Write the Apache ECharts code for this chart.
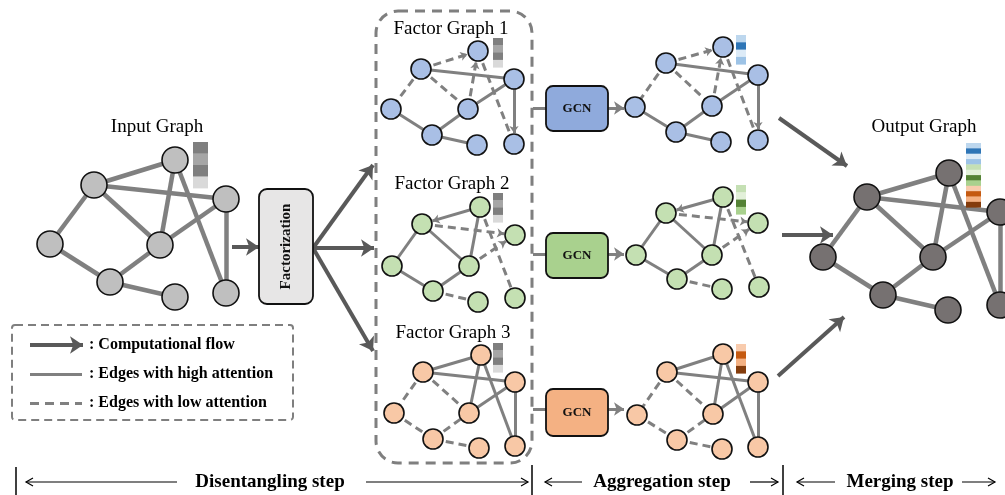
<!DOCTYPE html>
<html><head><meta charset="utf-8">
<script src="https://cdn.jsdelivr.net/npm/echarts@6/dist/echarts.min.js"></script>
<style>html,body{margin:0;padding:0;background:#fff}#c{width:1005px;height:495px}</style>
</head><body><div id="c"></div>
<script>
// ---------- node positions (a,b,c,d,e,f,g,h) ----------
const inputPos = [[175,160],[94,185],[226,199],[50,244],[160,245],[110,282],[175,297],[226,293]];
const fg1Pos = [[478,51],[421,69],[514,79],[391,109],[468,109],[432,135],[477,145],[514,144]];
const fg2Pos = [[480,207],[422,224],[515,235],[392,266],[469,266],[433,291],[478,302],[515,298]];
const fg3Pos = [[481,355],[423,372],[515,382],[394,413],[469,413],[433,439],[479,448],[515,446]];
const agg1Pos = [[723,47],[666,63],[758,75],[635,107],[712,106],[676,132],[721,142],[758,140]];
const agg2Pos = [[723,197],[666,213],[758,223],[636,255],[712,255],[677,279],[722,289],[759,287]];
const agg3Pos = [[723,354],[667,372],[758,382],[637,415],[713,414],[677,440],[722,449],[758,447]];
const outPos = [[949,173],[867,197],[1000,212],[823,257],[933,257],[883,295],[948,310],[1000,305]];

// ---------- edges and attention (H = high, L = low, null = absent) ----------
const edges = [[1,0],[1,2],[1,4],[1,3],[3,5],[5,4],[5,6],[4,0],[4,2],[0,7],[2,7]];
const inputAtt = ['H','H','H','H','H','H','H','H','H','H','H'];
const fg1Att = ['L','H','L','L','H','H','H','L','H','L','H'];
const fg2Att = ['H','L','H','H','H','H','L','H','L','L',null];
const fg3Att = ['H','H','L','L','L','L','L','H','H','H','H'];
// directed edges (edge index, target node) drawn with an arrowhead
const fg1Dir = [[0,0],[7,0],[10,7]];
const fg2Dir = [[0,1],[1,2],[8,2]];
const fg3Dir = [];

// ---------- node feature vectors ----------
const inputFeat = ['#7f7f7f','#a6a6a6','#7f7f7f','#d9d9d9'];
const agg1Feat = ['#bdd7ee','#2e75b6','#ddebf7','#9dc3e6'];
const agg2Feat = ['#c5e0b4','#e2f0d9','#548235','#a9d18e'];
const agg3Feat = ['#f8cbad','#c55a11','#f4b183','#843c0c'];
const outFeat = agg1Feat.concat(agg2Feat, agg3Feat);

// ---------- texts ----------
const graphTitles = ['Input Graph','Factor Graph 1','Factor Graph 2','Factor Graph 3','Output Graph'];
const legendLabels = [': Computational flow',': Edges with high attention',': Edges with low attention'];
const stepLabels = ['Disentangling step','Aggregation step','Merging step'];
const boxLabels = ['Factorization','GCN','GCN','GCN'];

// ---------- layout / style (not data) ----------
const titleAt = [[157,127],[451,29],[452,184],[453,333],[924,127]];
const legendAt = [[89,345],[89,374],[89,403]];
const stepAt = [[270,482],[662,482],[900,482]];
const stepArrows = [[177,26],[366,528],[582,545],[750,778],[835,797],[962,995]];
const stepDividers = [[16,467],[532,465],[783,465]];
const factorBox = [259,189,313,304];
const gcnBoxes = [[546,86,608,131],[546,233,608,278],[546,389,608,436]];
const gcnColors = ['#8faadc','#a9d18e','#f4b183'];
const containerBox = [376,11,532,463];
const legendBox = [12,325,293,420];
const flowArrows = [
  [[232,247],[259,247]],[[313,248],[373,165]],[[313,248],[374,248]],[[313,248],[373,351]],
  [[779,118],[847,166]],[[782,235],[833,235]],[[778,376],[844,317]],[[30,345],[83,345]]
];
const gcnLinks = [[[533,108],[546,108]],[[533,254],[546,254]],[[533,409],[546,409]]];
const gcnOut = [[[608,108],[624,108]],[[608,254],[624,254]],[[608,409],[624,409]]];
const legendSolid = [[[30,374],[82,374]]];
const legendDashed = [[[30,403],[82,403]]];
const featBars = [
  {at:[193,142], w:15, h:11.5, colors:inputFeat},
  {at:[493,38], w:10, h:7.3, colors:inputFeat},
  {at:[493,193], w:10, h:7.3, colors:inputFeat},
  {at:[493,343], w:10, h:7.3, colors:inputFeat},
  {at:[736,35], w:10, h:7.3, colors:agg1Feat},
  {at:[736,185], w:10, h:7.3, colors:agg2Feat},
  {at:[736,344], w:10, h:7.3, colors:agg3Feat},
  {at:[966,143], w:15, h:5.35, colors:outFeat}
];
const FONT = '"Liberation Serif","Times New Roman",serif';
const EDGE = '#808080';

const graphs = [
  {pos:inputPos, att:inputAtt, dir:[], fill:'#bfbfbf', r:13, w:4.5},
  {pos:fg1Pos, att:fg1Att, dir:fg1Dir, fill:'#a9bfe5', r:10, w:3},
  {pos:fg2Pos, att:fg2Att, dir:fg2Dir, fill:'#c4e0b2', r:10, w:3},
  {pos:fg3Pos, att:fg3Att, dir:fg3Dir, fill:'#f8c8a6', r:10, w:3},
  {pos:agg1Pos, att:fg1Att, dir:fg1Dir, fill:'#a9bfe5', r:10, w:3},
  {pos:agg2Pos, att:fg2Att, dir:fg2Dir, fill:'#c4e0b2', r:10, w:3},
  {pos:agg3Pos, att:fg3Att, dir:fg3Dir, fill:'#f8c8a6', r:10, w:3},
  {pos:outPos, att:inputAtt, dir:[], fill:'#767171', r:13, w:4.5}
];

function edgeData(g, kind){
  const out = [];
  const directed = g.dir.map(d=>d[0]);
  edges.forEach((e,i)=>{ if(g.att[i]===kind && directed.indexOf(i)<0) out.push({coords:[g.pos[e[0]], g.pos[e[1]]]}); });
  return out;
}
function dirData(g, kind){
  const out = [];
  g.dir.forEach(d=>{
    const i=d[0]; if(g.att[i]!==kind) return;
    const e=edges[i]; const to=d[1]; const from = e[0]===to?e[1]:e[0];
    const p0=g.pos[from], p1=g.pos[to];
    const dx=p1[0]-p0[0], dy=p1[1]-p0[1], L=Math.hypot(dx,dy), k=(L-g.r-1)/L;
    out.push({coords:[p0,[p0[0]+dx*k,p0[1]+dy*k]]});
  });
  return out;
}

const series = [];

// frames (dashed container + legend box)
const frames = [{b:containerBox, r:22, dash:[10,7], w:3},{b:legendBox, r:3, dash:[8,5], w:2}];
series.push({type:'custom', z:1, silent:true, data:frames.map(f=>[f.b[0],f.b[1]]),
  renderItem:(p,api)=>{const f=frames[p.dataIndex];const a=api.coord([f.b[0],f.b[1]]),b=api.coord([f.b[2],f.b[3]]);
    return {type:'rect', shape:{x:a[0],y:a[1],width:b[0]-a[0],height:b[1]-a[1],r:f.r},
      style:{fill:'none',stroke:'#7f7f7f',lineWidth:f.w,lineDash:f.dash}};}});

// edges
graphs.forEach(g=>{
  series.push({type:'lines', coordinateSystem:'cartesian2d', z:2, silent:true, symbol:'none',
    lineStyle:{color:EDGE, width:g.w, opacity:1}, data:edgeData(g,'H')});
  series.push({type:'lines', coordinateSystem:'cartesian2d', z:2, silent:true, symbol:'none',
    lineStyle:{color:EDGE, width:g.w, opacity:1, type:[8,5]}, data:edgeData(g,'L')});
  series.push({type:'lines', coordinateSystem:'cartesian2d', z:2, silent:true, symbol:['none','arrow'], symbolSize:7,
    lineStyle:{color:EDGE, width:g.w, opacity:1}, data:dirData(g,'H')});
  series.push({type:'lines', coordinateSystem:'cartesian2d', z:2, silent:true, symbol:['none','arrow'], symbolSize:7,
    lineStyle:{color:EDGE, width:g.w, opacity:1, type:[8,5]}, data:dirData(g,'L')});
});
// legend sample lines
series.push({type:'lines', coordinateSystem:'cartesian2d', z:2, symbol:'none', lineStyle:{color:EDGE,width:3,opacity:1}, data:legendSolid.map(c=>({coords:c}))});
series.push({type:'lines', coordinateSystem:'cartesian2d', z:2, symbol:'none', lineStyle:{color:EDGE,width:3,opacity:1,type:[9,6]}, data:legendDashed.map(c=>({coords:c}))});
// gcn connectors
series.push({type:'lines', coordinateSystem:'cartesian2d', z:2, symbol:'none', lineStyle:{color:EDGE,width:3,opacity:1}, data:gcnLinks.map(c=>({coords:c}))});
series.push({type:'lines', coordinateSystem:'cartesian2d', z:2, symbol:['none','arrow'], symbolSize:10, lineStyle:{color:EDGE,width:3,opacity:1}, data:gcnOut.map(c=>({coords:c}))});
// flow arrows
series.push({type:'lines', coordinateSystem:'cartesian2d', z:4, symbol:['none','arrow'], symbolSize:13, lineStyle:{color:'#595959',width:4,opacity:1}, data:flowArrows.map(c=>({coords:c}))});

// nodes
graphs.forEach(g=>{
  series.push({type:'scatter', z:3, silent:true, symbol:'circle', symbolSize:g.r*2,
    itemStyle:{color:g.fill, borderColor:'#111', borderWidth:1.6, opacity:1}, data:g.pos});
});

// feature cells
const cells = [];
featBars.forEach(b=>b.colors.forEach((c,i)=>cells.push({x:b.at[0], y:b.at[1]+i*b.h, w:b.w, h:b.h, c})));
series.push({type:'custom', z:3, silent:true, data:cells.map(c=>[c.x,c.y]),
  renderItem:(p,api)=>{const c=cells[p.dataIndex];const a=api.coord([c.x,c.y]),b=api.coord([c.x+c.w,c.y+c.h]);
    return {type:'rect', shape:{x:a[0],y:a[1],width:b[0]-a[0],height:b[1]-a[1]+0.4}, style:{fill:c.c}};}});

// boxes
const boxes = [{b:factorBox, fill:'#e7e6e6', r:8}].concat(gcnBoxes.map((b,i)=>({b, fill:gcnColors[i], r:7})));
series.push({type:'custom', z:4, silent:true, data:boxes.map(b=>[b.b[0],b.b[1]]),
  renderItem:(p,api)=>{const bx=boxes[p.dataIndex];const a=api.coord([bx.b[0],bx.b[1]]),b=api.coord([bx.b[2],bx.b[3]]);
    const idx=p.dataIndex;
    return {type:'group', children:[
      {type:'rect', shape:{x:a[0],y:a[1],width:b[0]-a[0],height:b[1]-a[1],r:bx.r}, style:{fill:bx.fill,stroke:'#111',lineWidth:1.8}},
      {type:'text', x:(a[0]+b[0])/2, y:(a[1]+b[1])/2, rotation: idx===0?Math.PI/2:0,
        style:{text:boxLabels[idx], font:'bold '+(idx===0?15:13)+'px '+FONT, fill:'#111', align:'center', verticalAlign:'middle', textAlign:'center', textVerticalAlign:'middle'}}
    ]};}});

// texts
const texts = [];
graphTitles.forEach((t,i)=>texts.push({t, p:titleAt[i], f:'19px '+FONT, al:'center'}));
legendLabels.forEach((t,i)=>texts.push({t, p:legendAt[i], f:'bold 16px '+FONT, al:'left'}));
stepLabels.forEach((t,i)=>texts.push({t, p:stepAt[i], f:'bold 19px '+FONT, al:'center'}));
series.push({type:'custom', z:5, silent:true, data:texts.map(t=>t.p),
  renderItem:(p,api)=>{const t=texts[p.dataIndex];const a=api.coord(t.p);
    return {type:'text', x:a[0], y:a[1], style:{text:t.t, font:t.f, fill:'#000', align:t.al, verticalAlign:'middle', textAlign:t.al, textVerticalAlign:'middle'}};}});

// step arrows (thin, open heads)
series.push({type:'custom', z:5, silent:true, data:stepArrows.map(s=>[s[0],482]),
  renderItem:(p,api)=>{const s=stepArrows[p.dataIndex];const a=api.coord([s[0],482]),b=api.coord([s[1],482]);
    const d=b[0]>a[0]?1:-1;
    return {type:'group', children:[
      {type:'line', shape:{x1:a[0],y1:a[1],x2:b[0],y2:b[1]}, style:{stroke:'#000',lineWidth:1.2}},
      {type:'polyline', shape:{points:[[b[0]-d*7,b[1]-4],[b[0],b[1]],[b[0]-d*7,b[1]+4]]}, style:{stroke:'#000',lineWidth:1.2,fill:'none'}}
    ]};}});
series.push({type:'custom', z:5, silent:true, data:stepDividers,
  renderItem:(p,api)=>{const s=stepDividers[p.dataIndex];const a=api.coord(s),b=api.coord([s[0],495]);
    return {type:'line', shape:{x1:a[0],y1:a[1],x2:b[0],y2:b[1]}, style:{stroke:'#000',lineWidth:1.5}};}});

const chart = echarts.init(document.getElementById('c'));
chart.setOption({
  animation:false,
  backgroundColor:'#fff',
  grid:{left:0,right:0,top:0,bottom:0},
  xAxis:{type:'value', min:0, max:1005, show:false},
  yAxis:{type:'value', min:0, max:495, inverse:true, show:false},
  series
});
</script></body></html>
